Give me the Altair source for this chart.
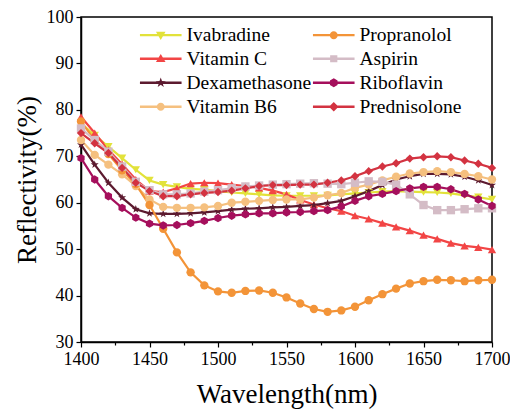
import altair as alt
import pandas as pd

wavelength = [1400, 1410, 1420, 1430, 1440, 1450, 1460, 1470, 1480, 1490, 1500,
              1510, 1520, 1530, 1540, 1550, 1560, 1570, 1580, 1590, 1600,
              1610, 1620, 1630, 1640, 1650, 1660, 1670, 1680, 1690, 1700]

ivabradine = [77.1, 74.5, 72.1, 69.6, 67.1, 64.8, 63.9, 63.4, 63.0, 62.8, 62.5,
              62.2, 62.0, 61.8, 61.6, 61.5, 61.5, 61.5, 61.6, 61.8, 62.0,
              62.2, 62.4, 62.5, 62.4, 62.3, 62.2, 62.0, 61.6, 61.2, 60.7]
vitamin_c = [78.5, 75.0, 71.4, 68.3, 65.0, 62.5, 62.3, 63.1, 64.1, 64.3, 64.2,
             63.9, 63.6, 63.2, 62.6, 61.8, 60.6, 59.6, 58.8, 58.2, 57.2,
             56.5, 55.6, 54.8, 54.0, 53.0, 52.2, 51.3, 50.7, 50.4, 49.9]
dexamethasone = [72.5, 68.2, 64.3, 61.1, 58.6, 57.7, 57.6, 57.6, 57.7, 57.9, 58.2,
                 58.5, 58.7, 58.8, 59.0, 59.1, 59.3, 59.5, 59.9, 60.4, 61.4,
                 62.5, 63.8, 65.0, 65.7, 66.2, 66.2, 66.1, 65.6, 64.8, 63.8]
vitamin_b6 = [73.5, 70.3, 68.2, 66.1, 63.6, 60.7, 59.1, 58.9, 58.9, 59.0, 59.3,
              60.0, 60.2, 60.4, 60.6, 60.7, 60.7, 61.1, 61.6, 62.1, 63.2,
              63.9, 64.8, 65.6, 66.3, 66.6, 66.8, 66.6, 66.2, 65.7, 65.0]
propranolol = [77.5, 73.5, 70.5, 67.0, 64.0, 59.5, 54.4, 49.3, 45.0, 42.2, 40.9,
               40.6, 41.0, 41.1, 40.6, 39.6, 38.3, 37.1, 36.5, 36.8, 37.6,
               39.0, 40.3, 41.5, 42.6, 43.1, 43.4, 43.3, 43.1, 43.3, 43.4]
aspirin = [76.0, 73.5, 71.0, 67.8, 64.5, 62.7, 61.8, 61.8, 62.0, 62.4, 62.7,
           63.1, 63.5, 63.7, 63.9, 64.0, 64.1, 64.2, 64.1, 64.0, 64.3,
           64.6, 64.5, 63.9, 61.8, 59.5, 58.4, 58.4, 58.6, 58.8, 58.8]
riboflavin = [69.6, 65.0, 61.4, 58.9, 56.8, 55.5, 55.1, 55.2, 55.6, 56.1, 56.7,
              57.2, 57.5, 57.7, 57.7, 57.9, 58.0, 58.2, 58.4, 59.2, 60.4,
              61.4, 61.9, 62.5, 63.1, 63.4, 63.4, 62.9, 61.9, 60.7, 59.3]
prednisolone = [75.0, 72.8, 70.7, 67.5, 64.3, 62.5, 61.4, 61.4, 61.8, 62.1, 62.3,
                62.6, 63.1, 63.6, 63.8, 63.8, 63.9, 63.9, 64.3, 64.8, 65.7,
                66.8, 67.8, 68.5, 69.5, 69.8, 70.0, 69.8, 69.1, 68.4, 67.5]

series_names = ["Ivabradine", "Vitamin C", "Dexamethasone", "Vitamin B6",
                "Propranolol", "Aspirin", "Riboflavin", "Prednisolone"]
series_values = [ivabradine, vitamin_c, dexamethasone, vitamin_b6,
                 propranolol, aspirin, riboflavin, prednisolone]

color_map = {
    "Ivabradine": "#e2e23a",
    "Propranolol": "#f39438",
    "Vitamin C": "#f24545",
    "Aspirin": "#d4bcc6",
    "Dexamethasone": "#5c1a2f",
    "Riboflavin": "#a50f5c",
    "Vitamin B6": "#f5c07f",
    "Prednisolone": "#d33341",
}
star = ("M0,-1L0.235,-0.324L0.951,-0.309L0.380,0.124L0.588,0.809L0,0.4"
        "L-0.588,0.809L-0.380,0.124L-0.951,-0.309L-0.235,-0.324Z")
hexagon = "M0,-1L0.866,-0.5L0.866,0.5L0,1L-0.866,0.5L-0.866,-0.5Z"
shape_map = {
    "Ivabradine": "triangle-down",
    "Propranolol": "circle",
    "Vitamin C": "triangle-up",
    "Aspirin": "square",
    "Dexamethasone": star,
    "Riboflavin": hexagon,
    "Vitamin B6": "circle",
    "Prednisolone": "diamond",
}
# legend glyphs: a short line with the marker on it (units of half symbol width)
bar = "M-2.6,-0.15H2.6V0.15H-2.6Z"
legend_marker = {
    "Ivabradine": "M-0.6,-0.42L0.6,-0.42L0,0.6Z",
    "Propranolol": "M0.5,0A0.5,0.5 0 1,1 -0.5,0A0.5,0.5 0 1,1 0.5,0Z",
    "Vitamin C": "M-0.6,0.42L0,-0.6L0.6,0.42Z",
    "Aspirin": "M-0.45,-0.45H0.45V0.45H-0.45Z",
    "Dexamethasone": ("M0,-0.65L0.153,-0.211L0.618,-0.201L0.247,0.081L0.382,0.526L0,0.26"
                      "L-0.382,0.526L-0.247,0.081L-0.618,-0.201L-0.153,-0.211Z"),
    "Riboflavin": "M0,-0.55L0.476,-0.275L0.476,0.275L0,0.55L-0.476,0.275L-0.476,-0.275Z",
    "Vitamin B6": "M0.5,0A0.5,0.5 0 1,1 -0.5,0A0.5,0.5 0 1,1 0.5,0Z",
    "Prednisolone": "M0,-0.6L0.6,0L0,0.6L-0.6,0Z",
}

rows = []
for name, vals in zip(series_names, series_values):
    for w, v in zip(wavelength, vals):
        rows.append({"wl": w, "refl": v, "series": name})
df = pd.DataFrame(rows)

FONT = "Liberation Serif"
x_ticks = [1400, 1425, 1450, 1475, 1500, 1525, 1550, 1575, 1600, 1625, 1650, 1675, 1700]
y_ticks = [30, 40, 50, 60, 70, 80, 90, 100]

x_enc = alt.X("wl:Q", scale=alt.Scale(domain=[1400, 1700], nice=False, zero=False),
              axis=alt.Axis(values=x_ticks, format="d", labelFlush=False,
                            labelExpr="datum.value % 50 == 0 ? datum.label : ''",
                            title="Wavelength(nm)", titlePadding=13,
                            labelFont=FONT, titleFont=FONT,
                            tickSize={"condition": {"test": "datum.value % 50 != 0", "value": 3},
                                      "value": 5},
                            labelPadding=3))
y_enc = alt.Y("refl:Q", scale=alt.Scale(domain=[30, 100], nice=False, zero=False),
              axis=alt.Axis(values=y_ticks, title="Reflectivity(%)", titlePadding=5,
                            labelFont=FONT, titleFont=FONT,
                            labelFlush=False, tickSize=5, labelPadding=3))

color_scale = alt.Scale(domain=series_names, range=[color_map[s] for s in series_names])
shape_scale = alt.Scale(domain=series_names, range=[shape_map[s] for s in series_names])
legend_shape_scale = alt.Scale(domain=series_names,
                               range=[bar + legend_marker[s] for s in series_names])

lines = alt.Chart(df).mark_line(strokeWidth=2.2).encode(
    x=x_enc, y=y_enc,
    color=alt.Color("series:N", scale=color_scale, legend=None),
    detail="series:N",
)

points = alt.Chart(df).mark_point(filled=True, size=70, opacity=1).encode(
    x=x_enc, y=y_enc,
    color=alt.Color("series:N", scale=color_scale, legend=None),
    shape=alt.Shape("series:N", scale=shape_scale, legend=None),
)

leg = dict(orient="none", legendX=70, legendY=8, columns=2, title=None,
           symbolSize=256, symbolOpacity=1, symbolStrokeWidth=0,
           labelFontSize=19.5, labelFont=FONT, labelColor="black",
           labelOffset=16, columnPadding=0, rowPadding=3, padding=0, labelLimit=300)

legend_layer = alt.Chart(df).mark_point(filled=True, size=256, opacity=0).encode(
    x=x_enc, y=y_enc,
    color=alt.Color("series:N", scale=color_scale, legend=alt.Legend(**leg)),
    shape=alt.Shape("series:N", scale=legend_shape_scale, legend=alt.Legend(**leg)),
)

chart = alt.layer(lines, points, legend_layer).resolve_scale(
    color="independent", shape="independent"
).properties(
    width=411, height=325,
    autosize=alt.AutoSizeParams(type="none"),
    padding={"left": 73, "top": 9, "right": 18, "bottom": 70},
).configure_view(stroke="black", strokeWidth=1.5).configure_axis(
    grid=False, domainColor="black", domainWidth=1.5, tickColor="black", tickWidth=1.2,
    labelColor="black", titleColor="black",
    labelFontSize=18, titleFontSize=27, titleFontWeight="normal",
)

chart.save("out.html", embed_options={"renderer": "svg", "actions": False})
